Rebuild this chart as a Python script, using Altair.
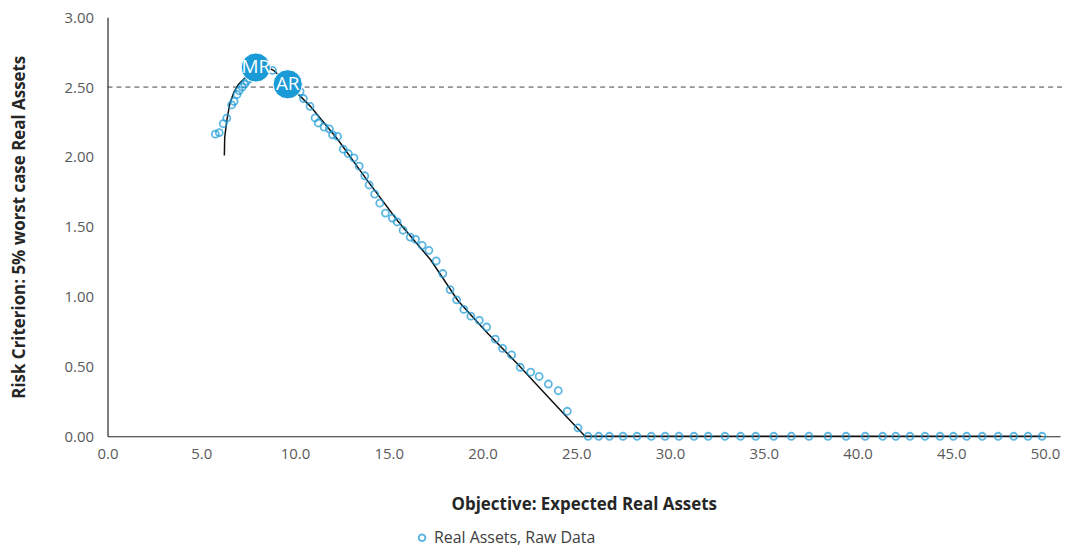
import altair as alt
import pandas as pd

# ---- data ----
raw_x = [5.75, 5.96, 6.17, 6.36, 6.62, 6.75, 6.91, 7.02, 7.18, 7.31, 7.42, 7.58,
         8.80, 10.27, 10.45, 10.80, 11.07, 11.24, 11.55, 11.83, 12.00, 12.27,
         12.57, 12.84, 13.14, 13.42, 13.72, 13.95, 14.25, 14.52, 14.82, 15.19,
         15.45, 15.76, 16.14, 16.43, 16.78, 17.14, 17.53, 17.88, 18.27, 18.62,
         19.00, 19.38, 19.83, 20.22, 20.68, 21.07, 21.55, 22.01, 22.57, 23.02,
         23.51, 24.04, 24.52, 25.09, 25.63,
         26.20, 26.77, 27.49, 28.24, 29.00, 29.74, 30.48, 31.28, 32.04, 32.93,
         33.76, 34.57, 35.53, 36.47, 37.41, 38.42, 39.39, 40.41, 41.34, 42.04,
         42.80, 43.60, 44.40, 45.11, 45.82, 46.65, 47.50, 48.33, 49.09, 49.84]
raw_y = [2.163, 2.174, 2.238, 2.277, 2.372, 2.397, 2.447, 2.475, 2.500, 2.521, 2.543, 2.560,
         2.619, 2.468, 2.418, 2.362, 2.279, 2.243, 2.213, 2.201, 2.158, 2.147,
         2.055, 2.023, 1.993, 1.934, 1.865, 1.799, 1.733, 1.669, 1.598, 1.562,
         1.534, 1.475, 1.426, 1.409, 1.367, 1.331, 1.255, 1.165, 1.050, 0.977,
         0.908, 0.860, 0.830, 0.782, 0.695, 0.629, 0.582, 0.494, 0.459, 0.428,
         0.374, 0.326, 0.179, 0.060, 0.0,
         0.0, 0.0, 0.0, 0.0, 0.0, 0.0, 0.0, 0.0, 0.0, 0.0,
         0.0, 0.0, 0.0, 0.0, 0.0, 0.0, 0.0, 0.0, 0.0, 0.0,
         0.0, 0.0, 0.0, 0.0, 0.0, 0.0, 0.0, 0.0, 0.0, 0.0]

fit_x = [6.23, 6.25, 6.36, 6.52, 6.73, 6.99, 7.37, 7.63, 7.95, 8.37, 8.85,
         9.60, 10.82, 12.30, 13.90, 15.49, 17.24, 18.68, 20.27, 21.87, 23.19,
         24.52, 25.47, 49.80]
fit_y = [2.01, 2.14, 2.26, 2.38, 2.46, 2.52, 2.57, 2.62, 2.645, 2.65, 2.62,
         2.525, 2.362, 2.121, 1.823, 1.539, 1.262, 0.972, 0.738, 0.518, 0.326,
         0.135, 0.0, 0.0]

mark_labels = ["MR", "AR"]
mark_x = [7.91, 9.61]
mark_y = [2.64, 2.52]

threshold = [2.5]
x_ticks = [0, 5, 10, 15, 20, 25, 30, 35, 40, 45, 50]
y_ticks = [0, 0.5, 1.0, 1.5, 2.0, 2.5, 3.0]
series_name = "Real Assets, Raw Data"

BLUE = "#1a9ad6"
FONT = "Open Sans"

raw_df = pd.DataFrame({"x": raw_x, "y": raw_y, "series": series_name})
fit_df = pd.DataFrame({"x": fit_x, "y": fit_y})
mark_df = pd.DataFrame({"x": mark_x, "y": mark_y, "label": mark_labels})
thr_df = pd.DataFrame({"y": threshold})

X = alt.X("x:Q",
          scale=alt.Scale(domain=[0, 50.8], nice=False, zero=False),
          axis=alt.Axis(values=x_ticks, format=".1f", title="Objective: Expected Real Assets",
                        titlePadding=36, labelPadding=10, labelFlush=False))
Y = alt.Y("y:Q",
          scale=alt.Scale(domain=[0, 3], nice=False),
          axis=alt.Axis(values=y_ticks, format=".2f",
                        title="Risk Criterion: 5% worst case Real Assets",
                        titlePadding=36, labelPadding=14))

rule = alt.Chart(thr_df).mark_rule(strokeDash=[5, 4], color="#444444", strokeWidth=1).encode(
    y=Y, x=alt.value(0), x2=alt.value(963))

line = alt.Chart(fit_df).mark_line(color="#111111", strokeWidth=1.5).encode(x=X, y=Y)

points = alt.Chart(raw_df).mark_point(shape="circle", filled=False, size=50, strokeWidth=1.8).encode(
    x=X, y=Y,
    color=alt.Color("series:N",
                    scale=alt.Scale(domain=[series_name], range=[BLUE]),
                    legend=alt.Legend(title=None, orient="none", legendX=308, legendY=515,
                                      labelFontSize=16, labelFont=FONT, labelColor="#404040",
                                      labelLimit=0,
                                      symbolSize=45, symbolStrokeWidth=2, symbolType="circle")))

bubbles = alt.Chart(mark_df).mark_circle(size=860, color=BLUE, opacity=1,
                                         stroke="white", strokeWidth=1).encode(x=X, y=Y)
labels = alt.Chart(mark_df).mark_text(color="white", fontSize=19, font=FONT).encode(
    x=X, y=Y, text="label:N")

chart = alt.layer(rule, line, points, bubbles, labels).properties(
    width=957, height=421,
    autosize=alt.AutoSizeParams(type="none"),
    padding={"left": 100, "top": 8, "right": 6, "bottom": 112},
).configure_view(stroke=None).configure_axis(
    grid=False, ticks=False, domainColor="#262626", domainWidth=1.2,
    labelFont=FONT, labelFontSize=15, labelColor="#595959",
    titleFont=FONT, titleFontSize=17, titleFontWeight="bold", titleColor="#262626",
)

chart.save("out.html", embed_options={"renderer": "svg", "actions": False})
